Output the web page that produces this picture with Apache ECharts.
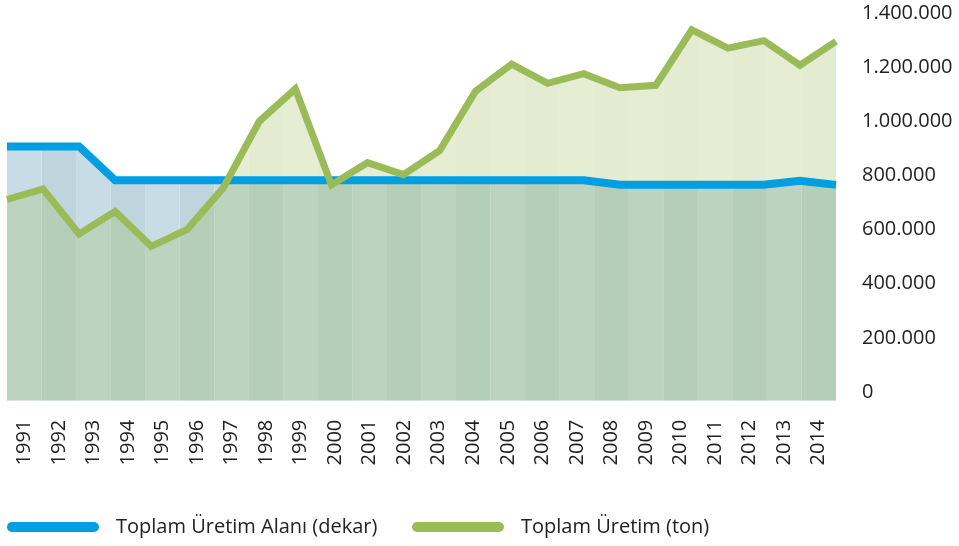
<!DOCTYPE html>
<html><head><meta charset="utf-8">
<script src="https://cdn.jsdelivr.net/npm/echarts@6/dist/echarts.min.js"></script>
<style>html,body{margin:0;padding:0;background:#fff}#c{width:959px;height:546px}</style>
</head><body><div id="c"></div>
<script>
const years = ['1991','1992','1993','1994','1995','1996','1997','1998','1999','2000','2001','2002','2003','2004','2005','2006','2007','2008','2009','2010','2011','2012','2013','2014'];
const alanDekar = [907000,907000,907000,782000,782000,782000,782000,782000,782000,782000,782000,782000,782000,782000,782000,782000,782000,766000,766000,766000,766000,766000,780000,765000];
const uretimTon = [711000,750000,584000,667000,538000,601000,754000,1000000,1120000,765000,847000,803000,891000,1111000,1211000,1140000,1176000,1124000,1133000,1338000,1270000,1298000,1207000,1295000];
const yTicks = [0,200000,400000,600000,800000,1000000,1200000,1400000];
const seriesNames = ['Toplam Üretim Alanı (dekar)','Toplam Üretim (ton)'];

const FONT = 'Open Sans';
const BLUE = '#009fe3', GREEN = '#9bbb59';
const fmt = v => String(v).replace(/\B(?=(\d{3})+(?!\d))/g, '.');
const pillIcon = 'path://M5,0H87A5,5,0,0,1,87,10H5A5,5,0,0,1,5,0Z';

const chart = echarts.init(document.getElementById('c'), null, {renderer:'canvas'});
const legendText = {fontSize:20, fontFamily:FONT, color:'#222', padding:[0,0,0,12], lineHeight:28};
const option = {
  animation: false,
  backgroundColor: '#fff',
  grid: [
    {left: 7, right: 123, top: 13, bottom: 145.3},
    {left: 7, right: 123, top: 13, bottom: 154}
  ],
  xAxis: [
    {type:'category', gridIndex:0, data: years, boundaryGap:false, position:'top', show:false},
    {type:'category', gridIndex:0, data: years, boundaryGap:true, position:'bottom',
     axisLine:{show:false}, axisTick:{show:false}, splitLine:{show:false},
     axisLabel:{rotate:90, margin:19, fontSize:20, fontFamily:FONT, color:'#222', interval:0}},
    {type:'category', gridIndex:1, data: years, show:false}
  ],
  yAxis: [
    {type:'value', gridIndex:0, min:-32200, max:yTicks[yTicks.length-1], show:false, splitLine:{show:false}},
    {type:'value', gridIndex:1, position:'right', min:yTicks[0], max:yTicks[yTicks.length-1],
     interval: yTicks[1]-yTicks[0],
     axisLine:{show:false}, axisTick:{show:false}, splitLine:{show:false},
     axisLabel:{margin:26, fontSize:20, fontFamily:FONT, color:'#222', formatter: fmt}}
  ],
  legend: [
    {left:7, top:513, padding:0, itemWidth:92, itemHeight:10, icon: pillIcon, textStyle: legendText,
     data:[{name:seriesNames[0], itemStyle:{color:BLUE, borderWidth:0}}]},
    {left:412, top:513, padding:0, itemWidth:92, itemHeight:10, icon: pillIcon, textStyle: legendText,
     data:[{name:seriesNames[1], itemStyle:{color:GREEN, borderWidth:0}}]}
  ],
  series: [
    {id:'blueArea', name:'a1', type:'line', xAxisIndex:0, yAxisIndex:0, data: alanDekar,
     symbol:'none', lineStyle:{width:0}, areaStyle:{origin:'start', color:'rgb(197,218,226)', opacity:1}, z:1, silent:true},
    {id:'greenArea', name:'a2', type:'line', xAxisIndex:0, yAxisIndex:0, data: uretimTon,
     symbol:'none', lineStyle:{width:0}, areaStyle:{origin:'start', color:'rgba(155,187,89,0.27)', opacity:1}, z:2, silent:true},
    {id:'blueLine', name:seriesNames[0], type:'line', xAxisIndex:0, yAxisIndex:0, data: alanDekar,
     symbol:'none', lineStyle:{width:8, color:BLUE, join:'miter'}, itemStyle:{color:BLUE}, z:3},
    {id:'greenLine', name:seriesNames[1], type:'line', xAxisIndex:0, yAxisIndex:0, data: uretimTon,
     symbol:'none', lineStyle:{width:7, color:GREEN, join:'miter'}, itemStyle:{color:GREEN}, z:4}
  ]
};
chart.setOption(option);

function makePattern(light, dark){
  const cv = document.createElement('canvas');
  cv.width = 959; cv.height = 546;
  const ctx = cv.getContext('2d');
  const c0 = chart.convertToPixel({xAxisIndex:1}, 0);
  const c1 = chart.convertToPixel({xAxisIndex:1}, 1);
  const bw = c1 - c0;
  for (let i = 0; i < years.length; i++) {
    const cx = chart.convertToPixel({xAxisIndex:1}, i);
    ctx.fillStyle = (i % 2 === 0) ? light : dark;
    ctx.fillRect(cx - bw/2, 0, bw, 546);
  }
  return {image: cv, repeat: 'no-repeat'};
}
chart.setOption({series:[
  {id:'blueArea', areaStyle:{color: makePattern('rgb(199,220,228)','rgb(191,213,222)')}},
  {id:'greenArea', areaStyle:{color: makePattern('rgba(155,187,89,0.262)','rgba(155,187,89,0.282)')}}
]});
</script></body></html>
